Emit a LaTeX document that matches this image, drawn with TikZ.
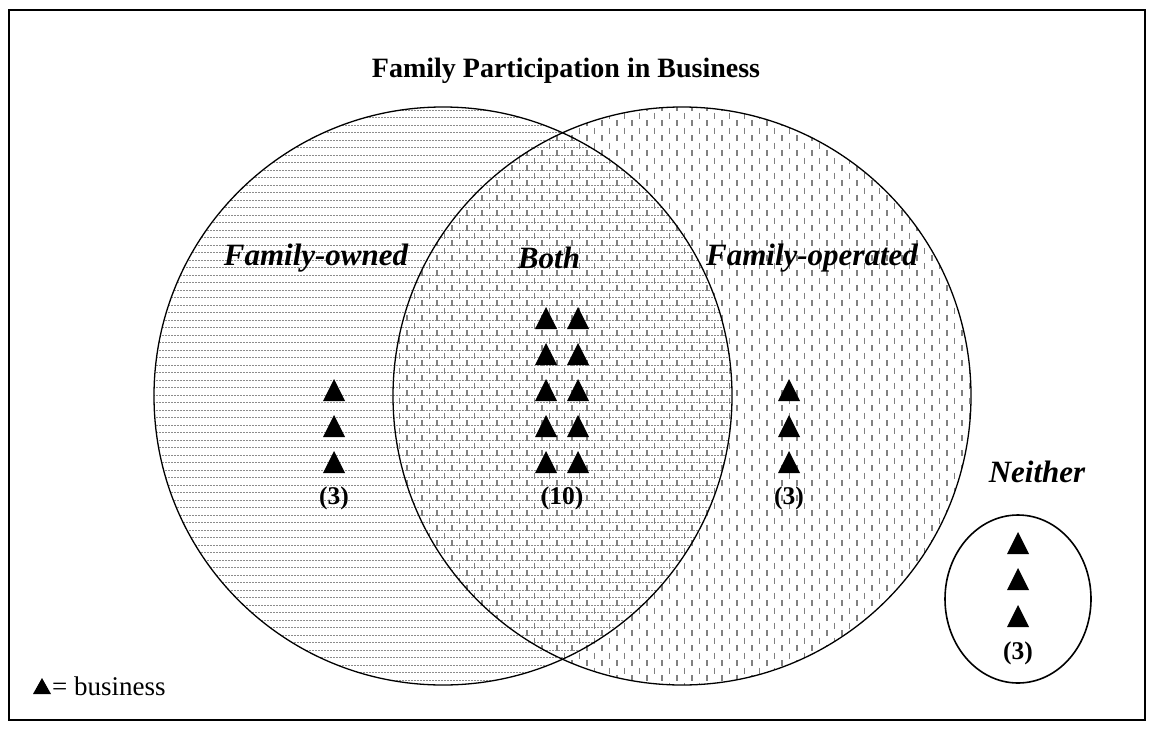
\documentclass[tikz,border=0pt]{standalone}
\usepackage{fontspec}
\setmainfont{Liberation Serif}
\usetikzlibrary{shapes.geometric}
\begin{document}
\begin{tikzpicture}[x=1pt,y=-1pt,
  frame/.style={line width=2pt},
  ring/.style={line width=1.3pt},
  hatch/.style={black!45, line width=0.9pt, dash pattern=on 2pt off 1pt},
  tick/.style={black!50, line width=1.3pt},
  heading/.style={font=\fontsize{28}{30}\selectfont\bfseries},
  setlabel/.style={font=\fontsize{31}{33}\selectfont\bfseries\itshape},
  count/.style={font=\fontsize{25.5}{27}\selectfont\bfseries},
  legendtext/.style={font=\fontsize{27}{29}\selectfont},
  biz/.pic={\fill (-11,11) -- (11,11) -- (0,-11) -- cycle;},
  smallbiz/.pic={\fill (-9,8) -- (9,8) -- (0,-8) -- cycle;}
]
\useasboundingbox (0,0) rectangle (1153,728);
\draw[frame] (9,10) rectangle (1145,720);

\coordinate (cL) at (443,396);
\coordinate (cR) at (682,396);

% horizontal hatching of the family-owned set
\begin{scope}
  \clip (cL) circle (289pt);
  \foreach \y in {110,117.5,...,690} \draw[hatch] (150,\y) -- (740,\y);
\end{scope}

% staggered vertical dashes of the family-operated set
\begin{scope}
  \clip (cR) circle (289pt);
  \foreach \i in {0,...,80} {
    \pgfmathsetmacro\xx{392+7.5*\i}
    \pgfmathsetmacro\off{mod(\i,2)*7.5}
    \draw[tick, dash pattern=on 6pt off 9pt, dash phase=\off pt] (\xx,105) -- (\xx,690);
  }
\end{scope}

% set outlines
\node[circle, draw, ring, minimum size=578pt, inner sep=0pt] (owned) at (cL) {};
\node[circle, draw, ring, minimum size=578pt, inner sep=0pt] (operated) at (cR) {};
\node[ellipse, draw, line width=1.6pt, minimum width=146pt, minimum height=168pt, inner sep=0pt] (neither) at (1018,599) {};

% texts
\node[heading] (title) at (566,71) {Family Participation in Business};
\node[setlabel] (lowned) at (316,258) {Family-owned};
\node[setlabel] (lboth) at (549,258) {Both};
\node[setlabel] (loper) at (812,258) {Family-operated};
\node[setlabel] (lneither) at (1037,472) {Neither};

% businesses
\foreach \y in {390,426,462} {
  \pic at (334,\y) {biz};
  \pic at (789,\y) {biz};
  }
\foreach \y in {318,354,390,426,462} {
  \pic at (546,\y) {biz};
  \pic at (578,\y) {biz};
  }
\foreach \y in {543,579,616} \pic at (1018,\y) {biz};

\node[count] (nowned) at (334,498) {(3)};
\node[count] (nboth) at (562,498) {(10)};
\node[count] (noper) at (789,498) {(3)};
\node[count] (nneither) at (1018,653) {(3)};

% legend
\pic at (42,686) {smallbiz};
\node[legendtext, anchor=west, inner sep=0pt] (legend) at (52,686) {= business};
\end{tikzpicture}
\end{document}
